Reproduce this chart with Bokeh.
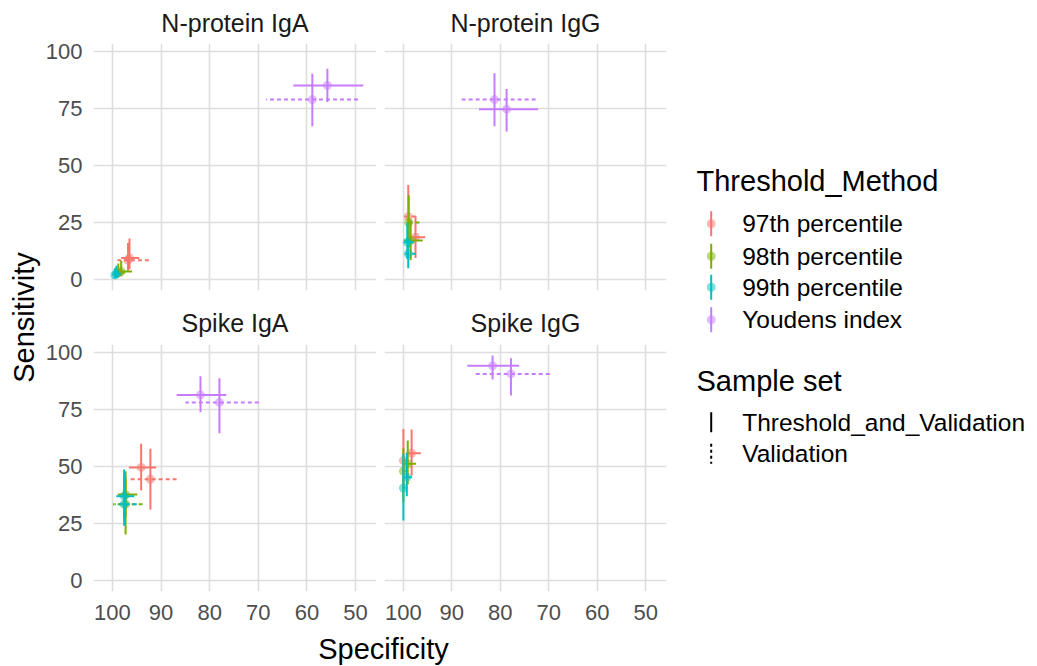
import math
from bokeh.plotting import figure
from bokeh.models import ColumnDataSource, Range1d, FixedTicker
from bokeh.layouts import row, column
from bokeh.embed import file_html
from bokeh.resources import INLINE
from bokeh.core.properties import value

FONT = "Liberation Sans"

panels = ["N-protein IgA", "N-protein IgG", "Spike IgA", "Spike IgG"]
methods = ["97th percentile", "98th percentile", "99th percentile", "Youdens index"]
sample_sets = ["Threshold_and_Validation", "Validation"]
colors = ["#F8766D", "#7CAE00", "#00BFC4", "#C77CFF"]

# order within each panel: 97 T&V, 97 V, 98 T&V, 98 V, 99 T&V, 99 V, Youden T&V, Youden V
row_method = [0, 0, 1, 1, 2, 2, 3, 3]
row_set = [0, 1, 0, 1, 0, 1, 0, 1]

# N-protein IgA
nia_spec = [96.5, 96.8, 98.2, 98.8, 99.2, 99.5, 55.8, 58.9]
nia_spec_lo = [94.5, 92.5, 96.0, 97.5, 98.3, 98.5, 48.4, 49.5]
nia_spec_hi = [98.2, 99.0, 99.2, 99.8, 99.9, 100.0, 62.8, 68.4]
nia_sens = [9.5, 8.5, 3.5, 3.0, 2.5, 2.0, 85.1, 78.9]
nia_sens_lo = [4.5, 3.5, 1.5, 1.0, 0.8, 0.5, 77.9, 67.2]
nia_sens_hi = [18.0, 16.0, 8.3, 7.0, 6.0, 5.0, 92.4, 90.2]

# N-protein IgG
nig_spec = [97.5, 99.0, 98.5, 98.9, 99.2, 99.0, 78.7, 81.2]
nig_spec_lo = [95.5, 97.5, 96.0, 96.7, 97.8, 97.4, 72.2, 72.7]
nig_spec_hi = [98.8, 99.8, 99.8, 99.6, 99.9, 99.8, 84.4, 88.3]
nig_sens = [18.6, 27.6, 17.1, 25.0, 16.4, 11.3, 74.7, 78.9]
nig_sens_lo = [9.5, 16.5, 8.5, 14.0, 9.0, 5.0, 64.9, 67.2]
nig_sens_hi = [28.0, 41.5, 26.0, 37.0, 25.0, 17.5, 83.6, 90.5]

# Spike IgA
sia_spec = [94.1, 92.2, 97.3, 97.3, 97.6, 97.6, 81.9, 78.0]
sia_spec_lo = [91.0, 86.8, 94.9, 93.8, 95.5, 95.0, 76.6, 69.9]
sia_spec_hi = [96.6, 96.5, 98.9, 99.9, 99.2, 99.5, 86.8, 85.0]
sia_sens = [49.6, 44.4, 37.7, 33.5, 37.0, 33.5, 81.4, 78.1]
sia_sens_lo = [39.5, 31.1, 28.0, 20.2, 27.2, 24.0, 73.8, 64.6]
sia_sens_hi = [60.0, 57.8, 47.9, 45.0, 48.7, 46.0, 89.6, 88.7]

# Spike IgG
sig_spec = [98.3, 100.0, 99.1, 100.0, 99.3, 100.0, 81.6, 77.8]
sig_spec_lo = [96.4, 99.5, 97.4, 99.5, 98.2, 99.6, 76.1, 69.8]
sig_spec_hi = [99.4, 100.0, 99.8, 100.0, 100.0, 100.0, 86.8, 85.4]
sig_sens = [55.8, 52.6, 51.2, 48.0, 45.3, 40.6, 94.2, 90.6]
sig_sens_lo = [46.0, 40.0, 42.1, 34.4, 37.0, 26.3, 88.2, 81.1]
sig_sens_hi = [66.2, 66.5, 61.4, 58.0, 56.0, 55.6, 98.7, 97.5]

panel_data = [
    (nia_spec, nia_spec_lo, nia_spec_hi, nia_sens, nia_sens_lo, nia_sens_hi),
    (nig_spec, nig_spec_lo, nig_spec_hi, nig_sens, nig_sens_lo, nig_sens_hi),
    (sia_spec, sia_spec_lo, sia_spec_hi, sia_sens, sia_sens_lo, sia_sens_hi),
    (sig_spec, sig_spec_lo, sig_spec_hi, sig_sens, sig_sens_lo, sig_sens_hi),
]

x_ticks = [50, 60, 70, 80, 90, 100]
y_ticks = [0, 25, 50, 75, 100]

GRID = "#DEDEDE"
TICK_COL = "#4D4D4D"
STRIP_COL = "#1A1A1A"
DASH = "4 3"

TOP_TOP = 43
BOT_TOP, FRAME_H, BOT_BB = 50, 247, 34
TOP_H = TOP_TOP + FRAME_H + 4
XLAB_H = 40
TOTAL_H = TOP_H + BOT_TOP + FRAME_H + BOT_BB + XLAB_H


def make_panel(i):
    spec, spec_lo, spec_hi, sens, sens_lo, sens_hi = panel_data[i]
    left = i % 2 == 0
    bottom = i >= 2
    fw = 283 if left else 282
    p = figure(output_backend="svg", toolbar_location=None,
               frame_width=fw, frame_height=FRAME_H,
               x_range=Range1d(103.9, 45.7), y_range=Range1d(-4.8, 103.5),
               title=panels[i])
    p.min_border_left = 44 if left else 4
    p.min_border_right = 4 if left else 8
    p.min_border_top = TOP_TOP if not bottom else BOT_TOP
    p.min_border_bottom = 4 if not bottom else BOT_BB
    p.outline_line_color = None
    p.background_fill_color = "white"
    p.border_fill_color = "white"
    p.title.align = "center"
    p.title.text_font = FONT
    p.title.text_font_size = "25px"
    p.title.text_font_style = "normal"
    p.title.text_color = STRIP_COL
    p.title.standoff = 13 if not bottom else 16

    for ax in (p.xaxis[0], p.yaxis[0]):
        ax.axis_line_color = None
        ax.major_tick_line_color = None
        ax.minor_tick_line_color = None
        ax.major_label_text_font = FONT
        ax.major_label_text_font_size = "22px"
        ax.major_label_text_color = TICK_COL
    p.xaxis.ticker = FixedTicker(ticks=x_ticks)
    p.yaxis.ticker = FixedTicker(ticks=y_ticks)
    p.xaxis.major_label_standoff = 7
    p.yaxis.major_label_standoff = 5
    p.xgrid.ticker = FixedTicker(ticks=x_ticks)
    p.ygrid.ticker = FixedTicker(ticks=y_ticks)
    for g in (p.xgrid[0], p.ygrid[0]):
        g.grid_line_color = GRID
        g.grid_line_width = 1.6
    p.xaxis.visible = bottom
    p.yaxis.visible = left

    for m in range(len(methods)):
        for s in range(len(sample_sets)):
            idx = [k for k in range(8) if row_method[k] == m and row_set[k] == s]
            src = ColumnDataSource(dict(
                spec=[spec[k] for k in idx], spec_lo=[spec_lo[k] for k in idx],
                spec_hi=[spec_hi[k] for k in idx], sens=[sens[k] for k in idx],
                sens_lo=[sens_lo[k] for k in idx], sens_hi=[sens_hi[k] for k in idx]))
            p.scatter("spec", "sens", source=src, size=9, fill_color=colors[m],
                      fill_alpha=0.5, line_color=None)
            p.segment(x0="spec", y0="sens_lo", x1="spec", y1="sens_hi", source=src,
                      line_color=colors[m], line_width=2)
            p.segment(x0="spec_lo", y0="sens", x1="spec_hi", y1="sens", source=src,
                      line_color=colors[m], line_width=2,
                      line_dash="solid" if s == 0 else DASH)
    return p


def text_fig(w, h):
    f = figure(output_backend="svg", toolbar_location=None, width=w, height=h,
               x_range=Range1d(0, w), y_range=Range1d(h, 0),
               x_axis_type=None, y_axis_type=None, min_border=0)
    f.outline_line_color = None
    f.xgrid.visible = False
    f.ygrid.visible = False
    return f


panels_figs = [make_panel(i) for i in range(4)]

# y-axis title
ylab = text_fig(42, TOTAL_H)
ylab.text(x=[23], y=[317], text=["Sensitivity"], angle=math.pi / 2,
          text_font=value(FONT), text_font_size="29px", text_color="black",
          text_align="center", text_baseline="middle")

# x-axis title
xlab = text_fig(625, XLAB_H)
xlab.text(x=[341], y=[23], text=["Specificity"],
          text_font=value(FONT), text_font_size="29px", text_color="black",
          text_align="center", text_baseline="middle")

# legend
LEG_TXT = "24.5px"
leg = text_fig(354, TOTAL_H)
leg.text(x=[22], y=[180.7], text=["Threshold_Method"], text_font=value(FONT),
         text_font_size="29px", text_baseline="middle", text_color="black")
item_y = [223.3, 255.7, 286.7, 319.3]
leg.segment(x0=[36.7] * 4, x1=[36.7] * 4, y0=[y - 12.5 for y in item_y],
            y1=[y + 12.5 for y in item_y], line_color=colors, line_width=2)
leg.scatter(x=[36.7] * 4, y=item_y, size=9, fill_color=colors, fill_alpha=0.5,
            line_color=None)
leg.text(x=[67.7] * 4, y=item_y, text=methods, text_font=value(FONT),
         text_font_size=LEG_TXT, text_baseline="middle", text_color="black")
leg.text(x=[22], y=[380], text=["Sample set"], text_font=value(FONT),
         text_font_size="29px", text_baseline="middle", text_color="black")
set_y = [421.7, 453.3]
leg.segment(x0=[36.7], x1=[36.7], y0=[set_y[0] - 10], y1=[set_y[0] + 10],
            line_color="black", line_width=2)
leg.segment(x0=[36.7], x1=[36.7], y0=[set_y[1] - 10], y1=[set_y[1] + 10],
            line_color="black", line_width=2, line_dash="3 3")
leg.text(x=[67.7] * 2, y=set_y, text=sample_sets, text_font=value(FONT),
         text_font_size=LEG_TXT, text_baseline="middle", text_color="black")

grid = column(row(panels_figs[0], panels_figs[1]),
              row(panels_figs[2], panels_figs[3]), xlab)
layout = row(ylab, grid, leg)

open("out.html", "w").write(file_html(layout, INLINE))
